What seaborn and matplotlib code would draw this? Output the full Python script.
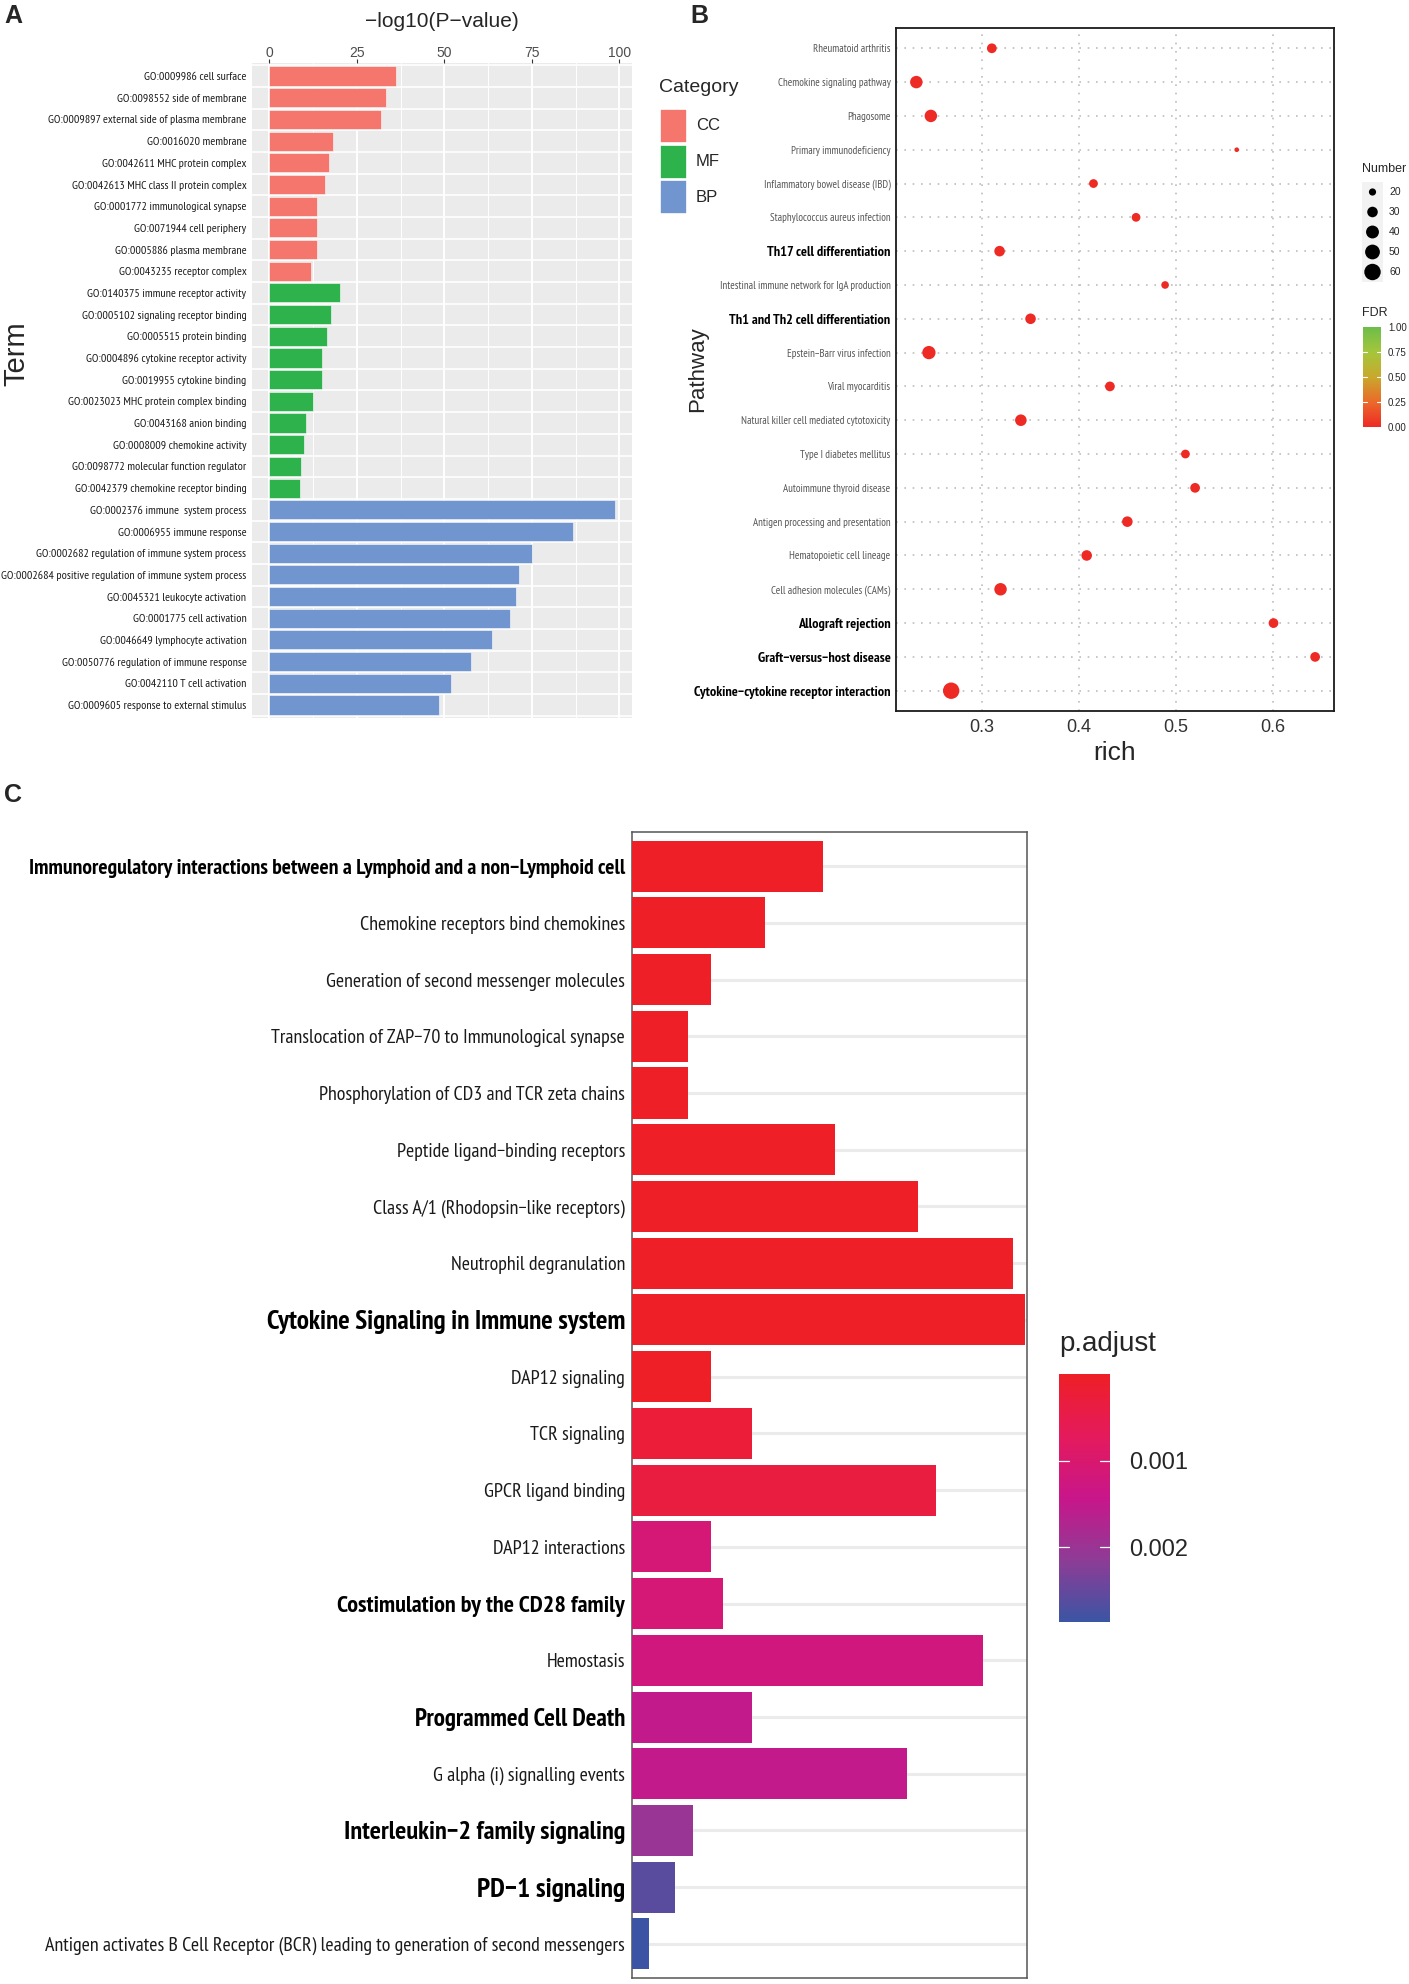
import numpy as np
import pandas as pd
import seaborn as sns
import matplotlib
matplotlib.use("Agg")
import matplotlib.pyplot as plt
from matplotlib import font_manager
from matplotlib.colors import LinearSegmentedColormap, Normalize
from matplotlib.cm import ScalarMappable
from matplotlib.patches import Rectangle

# ---------------- data ----------------
# Panel A: GO enrichment, -log10(P-value)
termsA = ["GO:0009986 cell surface", "GO:0098552 side of membrane",
          "GO:0009897 external side of plasma membrane", "GO:0016020 membrane",
          "GO:0042611 MHC protein complex", "GO:0042613 MHC class II protein complex",
          "GO:0001772 immunological synapse", "GO:0071944 cell periphery",
          "GO:0005886 plasma membrane", "GO:0043235 receptor complex",
          "GO:0140375 immune receptor activity", "GO:0005102 signaling receptor binding",
          "GO:0005515 protein binding", "GO:0004896 cytokine receptor activity",
          "GO:0019955 cytokine binding", "GO:0023023 MHC protein complex binding",
          "GO:0043168 anion binding", "GO:0008009 chemokine activity",
          "GO:0098772 molecular function regulator", "GO:0042379 chemokine receptor binding",
          "GO:0002376 immune  system process", "GO:0006955 immune response",
          "GO:0002682 regulation of immune system process",
          "GO:0002684 positive regulation of immune system process",
          "GO:0045321 leukocyte activation", "GO:0001775 cell activation",
          "GO:0046649 lymphocyte activation", "GO:0050776 regulation of immune response",
          "GO:0042110 T cell activation", "GO:0009605 response to external stimulus"]
logpA = [36.1, 33.3, 31.9, 18.2, 17.2, 15.8, 13.6, 13.6, 13.5, 11.9,
         20.1, 17.7, 16.5, 15.2, 15.0, 12.6, 10.5, 10.0, 9.0, 8.7,
         98.7, 86.7, 74.9, 71.3, 70.6, 68.7, 63.5, 57.5, 52.0, 48.6]
catA = ["CC"] * 10 + ["MF"] * 10 + ["BP"] * 10
cat_levels = ["CC", "MF", "BP"]

# Panel B: KEGG pathways (top to bottom)
pathB = ["Rheumatoid arthritis", "Chemokine signaling pathway", "Phagosome",
         "Primary immunodeficiency", "Inflammatory bowel disease (IBD)",
         "Staphylococcus aureus infection", "Th17 cell differentiation",
         "Intestinal immune network for IgA production", "Th1 and Th2 cell differentiation",
         "Epstein\u2212Barr virus infection", "Viral myocarditis",
         "Natural killer cell mediated cytotoxicity", "Type I diabetes mellitus",
         "Autoimmune thyroid disease", "Antigen processing and presentation",
         "Hematopoietic cell lineage", "Cell adhesion molecules (CAMs)",
         "Allograft rejection", "Graft\u2212versus\u2212host disease",
         "Cytokine\u2212cytokine receptor interaction"]
richB = [0.310, 0.232, 0.247, 0.563, 0.415, 0.459, 0.318, 0.489, 0.350, 0.245,
         0.432, 0.340, 0.510, 0.520, 0.450, 0.408, 0.319, 0.601, 0.644, 0.268]
numberB = [27, 38, 38, 16, 24, 24, 30, 21, 30, 42,
           27, 34, 24, 27, 30, 30, 38, 27, 27, 60]
fdrB = [0.001, 0.0001, 0.0001, 0.004, 0.001, 0.001, 0.0005, 0.002, 0.0005, 0.0001,
        0.001, 0.0002, 0.002, 0.001, 0.0005, 0.0005, 0.0001, 0.0001, 0.0001, 0.00001]
boldB = ["Th17 cell differentiation", "Th1 and Th2 cell differentiation",
         "Allograft rejection", "Graft\u2212versus\u2212host disease",
         "Cytokine\u2212cytokine receptor interaction"]
number_breaks = [20, 30, 40, 50, 60]
fdr_breaks = [0.0, 0.25, 0.5, 0.75, 1.0]

# Panel C: Reactome pathways (top to bottom)
termsC = ["Immunoregulatory interactions between a Lymphoid and a non\u2212Lymphoid cell",
          "Chemokine receptors bind chemokines",
          "Generation of second messenger molecules",
          "Translocation of ZAP\u221270 to Immunological synapse",
          "Phosphorylation of CD3 and TCR zeta chains",
          "Peptide ligand\u2212binding receptors",
          "Class A/1 (Rhodopsin\u2212like receptors)",
          "Neutrophil degranulation",
          "Cytokine Signaling in Immune system",
          "DAP12 signaling", "TCR signaling", "GPCR ligand binding",
          "DAP12 interactions", "Costimulation by the CD28 family", "Hemostasis",
          "Programmed Cell Death", "G alpha (i) signalling events",
          "Interleukin\u22122 family signaling", "PD\u22121 signaling",
          "Antigen activates B Cell Receptor (BCR) leading to generation of second messengers"]
countC = [35.0, 24.3, 14.5, 10.2, 10.2, 37.1, 52.3, 69.8, 72.0, 14.5,
          22.0, 55.7, 14.5, 16.6, 64.3, 22.0, 50.3, 11.2, 7.8, 3.2]
padjC = [0.00001, 0.00001, 0.00001, 0.00001, 0.00001, 0.00001, 0.00001, 0.00001,
         0.00001, 0.00001, 0.00025, 0.00035, 0.0011, 0.0011, 0.00125, 0.0015,
         0.0015, 0.0020, 0.0026, 0.00285]
padj_breaks = [0.001, 0.002]
padj_limits = (0.0, 0.00286)

# label emphasis in panel C (size pt, weight)
emphC = {termsC[0]: (15.6, "bold"), termsC[8]: (19.5, "bold"),
         termsC[13]: (17.4, "bold"), termsC[15]: (18.0, "bold"),
         termsC[17]: (19.0, "bold"), termsC[18]: (19.8, "bold")}

# ---------------- style ----------------
sns.set_style("white")
names = {f.name for f in font_manager.fontManager.ttflist}
NARROW = "Liberation Sans"
for cand in ["Liberation Sans Narrow", "Arimo Narrow", "PT Sans Narrow",
             "Roboto Condensed", "Archivo Narrow", "Pragati Narrow"]:
    if cand in names:
        NARROW = cand
        break
plt.rcParams["font.family"] = ["Liberation Sans", "DejaVu Sans"]
plt.rcParams["axes.unicode_minus"] = True

W, H = 1409, 1984
fig = plt.figure(figsize=(W / 100, H / 100), dpi=100)


def ax_px(x0, y0, x1, y1):
    return fig.add_axes([x0 / W, 1 - y1 / H, (x1 - x0) / W, (y1 - y0) / H])


def fx(x):
    return x / W


def fy(y):
    return 1 - y / H


# ---------------- Panel A ----------------
pal_A = {"CC": "#F4766C", "MF": "#2EB24C", "BP": "#7195CF"}
dfA = pd.DataFrame({"Term": termsA, "logp": logpA, "Category": catA})
axA = ax_px(252, 63, 632, 718)
axA.set_facecolor("#EBEBEB")
sns.barplot(data=dfA, x="logp", y="Term", hue="Category", palette=pal_A,
            saturation=1, dodge=False, width=0.88, legend=False, ax=axA,
            edgecolor="#FFFFFF", linewidth=0.4, zorder=3)
axA.set_xlim(-4.93, 103.6)
axA.set_ylim(len(termsA) - 1 + 0.6, -0.6)
axA.set_xticks([0, 25, 50, 75, 100])
axA.set_xticks([12.5, 37.5, 62.5, 87.5], minor=True)
axA.set_yticks(np.arange(-0.5, len(termsA), 1), minor=True)
axA.grid(True, which="major", axis="x", color="white", lw=1.4, zorder=1)
axA.grid(True, which="minor", axis="x", color="white", lw=0.7, zorder=1)
axA.grid(True, which="minor", axis="y", color="white", lw=1.2, zorder=1)
axA.set_axisbelow(True)
axA.xaxis.tick_top()
axA.xaxis.set_label_position("top")
axA.set_xlabel("\u2212log10(P\u2212value)", fontsize=15, labelpad=14)
axA.set_ylabel("")
axA.tick_params(axis="x", which="major", length=3, color="#333333",
                labelsize=10, labelcolor="#4D4D4D", pad=-1)
axA.tick_params(axis="y", which="major", length=3, color="#333333", pad=1)
axA.tick_params(which="minor", length=0)
for lab in axA.get_yticklabels():
    lab.set_fontfamily(NARROW)
    lab.set_fontsize(8.6)
    lab.set_color("#1A1A1A")
for s in axA.spines.values():
    s.set_visible(False)
fig.text(fx(16), fy(354), "Term", rotation=90, fontsize=21, ha="center", va="center")

# Category legend
fig.text(fx(659), fy(88), "Category", fontsize=14, ha="left", va="center")
for i, c in enumerate(cat_levels):
    yc = 126 + i * 35.5
    fig.patches.append(Rectangle((fx(660), fy(yc + 17)), 27 / W, 34 / H,
                                 transform=fig.transFigure, facecolor=pal_A[c],
                                 edgecolor="white", lw=1.2))
    fig.text(fx(696), fy(yc), c, fontsize=12, ha="left", va="center")

# ---------------- Panel B ----------------
fdr_cmap = LinearSegmentedColormap.from_list(
    "fdr", ["#EE2A24", "#EA6A2A", "#C9A82C", "#A4C63B", "#6DBD4A"])


def dot_area(n):
    d = 2.5 + 14.2 * np.sqrt(max(n - 15, 0) / 50.0)
    return (d * 0.74) ** 2


dfB = pd.DataFrame({"Pathway": pathB, "rich": richB, "Number": numberB, "FDR": fdrB})
axB = ax_px(896, 28, 1334, 711)
sns.scatterplot(data=dfB, x="rich", y="Pathway", size="Number",
                sizes={n: dot_area(n) for n in set(numberB)},
                hue="FDR", palette=fdr_cmap, hue_norm=(0, 1),
                edgecolor="none", legend=False, ax=axB, zorder=3)
axB.set_xlim(0.211, 0.6635)
axB.set_ylim(len(pathB) - 1 + 0.6, -0.6)
axB.set_xticks([0.3, 0.4, 0.5, 0.6])
axB.set_xticklabels(["0.3", "0.4", "0.5", "0.6"])
axB.grid(True, axis="both", color="#BDBDBD", lw=1.2, ls=(0, (1, 4)), zorder=1)
axB.set_xlabel("rich", fontsize=19, labelpad=3)
axB.set_ylabel("Pathway", fontsize=16)
axB.yaxis.set_label_coords(-0.43, 0.5)
axB.tick_params(axis="x", length=4, color="#333333", labelsize=13, labelcolor="#333333", pad=2)
axB.tick_params(axis="y", length=3, color="#333333", pad=1)
for lab in axB.get_yticklabels():
    lab.set_fontfamily(NARROW)
    if lab.get_text() in boldB:
        lab.set_fontsize(10.3)
        lab.set_fontweight("bold")
        lab.set_color("black")
    else:
        lab.set_fontsize(7.8)
        lab.set_color("#555555")
for s in axB.spines.values():
    s.set_visible(True)
    s.set_color("#1A1A1A")
    s.set_linewidth(1.3)

# Number legend
fig.text(fx(1362), fy(169), "Number", fontsize=9, ha="left", va="center")
axN = ax_px(1362, 182, 1383, 282)
axN.set_facecolor("#F2F2F2")
for i, n in enumerate(number_breaks):
    axN.scatter([0.5], [i], s=dot_area(n), color="black", edgecolor="none")
axN.set_xlim(0, 1)
axN.set_ylim(len(number_breaks) - 0.5, -0.5)
axN.set_xticks([])
axN.set_yticks([])
for s in axN.spines.values():
    s.set_visible(False)
for i, n in enumerate(number_breaks):
    fig.text(fx(1389), fy(192 + i * 20), str(n), fontsize=7.5, ha="left", va="center")

# FDR colorbar
fig.text(fx(1362), fy(313), "FDR", fontsize=9, ha="left", va="center")
caxB = ax_px(1363, 327, 1381, 427)
cbB = fig.colorbar(ScalarMappable(norm=Normalize(0, 1), cmap=fdr_cmap), cax=caxB)
cbB.set_ticks(fdr_breaks)
cbB.set_ticklabels([f"{v:.2f}" for v in fdr_breaks])
cbB.outline.set_visible(False)
caxB.tick_params(length=0, labelsize=7, pad=5)
for v in fdr_breaks[1:-1]:
    caxB.plot([0, 0.2], [v, v], color="white", lw=0.8)
    caxB.plot([0.8, 1], [v, v], color="white", lw=0.8)

# ---------------- Panel C ----------------
padj_cmap = LinearSegmentedColormap.from_list(
    "padj", ["#EE1F26", "#E41A5C", "#C8168A", "#8E3C96", "#3B55A4"])
padj_norm = Normalize(*padj_limits)
dfC = pd.DataFrame({"Description": termsC, "Count": countC, "p.adjust": padjC})
colC = {t: padj_cmap(padj_norm(p)) for t, p in zip(termsC, padjC)}
axC = ax_px(632, 832, 1027, 1978)
sns.barplot(data=dfC, x="Count", y="Description", hue="Description", palette=colC,
            saturation=1, dodge=False, width=0.9, legend=False, ax=axC, zorder=3,
            edgecolor="none")
axC.set_xlim(0, max(countC) * 1.004)
axC.set_ylim(len(termsC) - 1 + 0.6, -0.6)
axC.grid(True, axis="y", color="#EBEBEB", lw=2.2, zorder=1)
axC.set_axisbelow(True)
axC.set_xticks([])
axC.set_xlabel("")
axC.set_ylabel("")
axC.tick_params(axis="y", length=3, width=1.2, color="#333333", pad=2)
for lab in axC.get_yticklabels():
    lab.set_fontfamily(NARROW)
    size, weight = emphC.get(lab.get_text(), (14.4, "normal"))
    lab.set_fontsize(size)
    lab.set_fontweight(weight)
    lab.set_color("black" if weight == "bold" else "#1A1A1A")
for s in axC.spines.values():
    s.set_visible(True)
    s.set_color("#555555")
    s.set_linewidth(1.1)

# p.adjust colorbar
fig.text(fx(1059), fy(1344), "p.adjust", fontsize=20, ha="left", va="center")
caxC = ax_px(1059, 1374, 1110, 1622)
cbC = fig.colorbar(ScalarMappable(norm=padj_norm, cmap=padj_cmap), cax=caxC)
caxC.invert_yaxis()
cbC.set_ticks(padj_breaks)
cbC.set_ticklabels(["0.001", "0.002"])
cbC.outline.set_visible(False)
caxC.tick_params(length=0, labelsize=17, pad=14)
for v in padj_breaks:
    caxC.plot([0, 0.2], [v, v], color="white", lw=0.9)
    caxC.plot([0.8, 1], [v, v], color="white", lw=0.9)

# ---------------- panel letters ----------------
fig.text(fx(4), fy(16), "A", fontsize=18, fontweight="bold", ha="left", va="center")
fig.text(fx(690), fy(16), "B", fontsize=18, fontweight="bold", ha="left", va="center")
fig.text(fx(4), fy(795), "C", fontsize=18, fontweight="bold", ha="left", va="center")

fig.savefig("out.png", dpi=100)
